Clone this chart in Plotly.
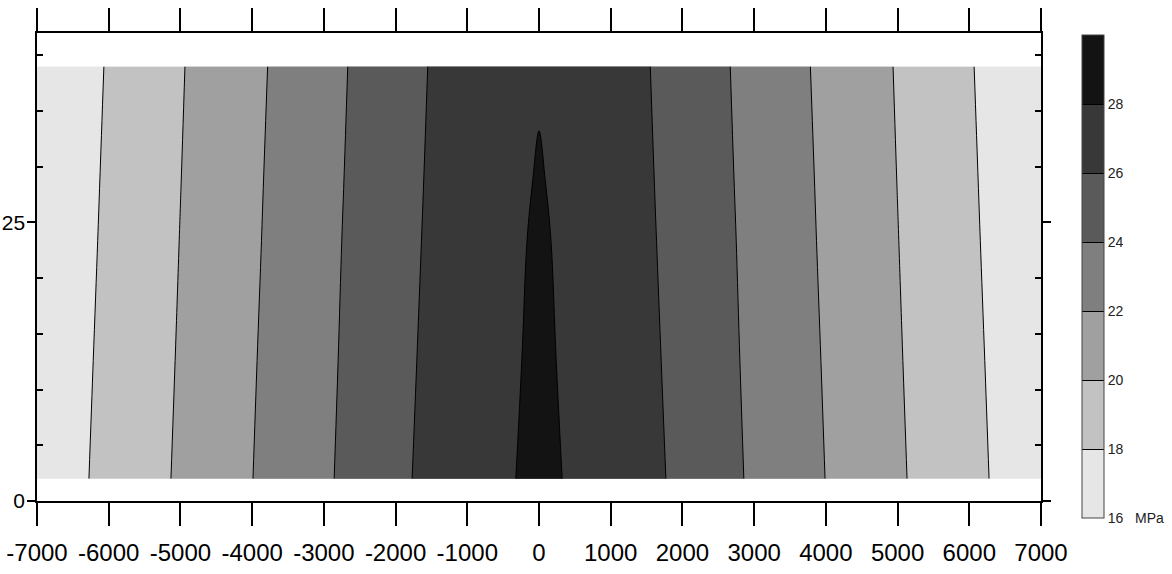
import plotly.graph_objects as go

# |x| positions (m) of the half-profile, symmetric about 0
half_x = [0, 500, 1000, 1500, 2000, 2500, 3000, 3500, 4000, 4500, 5000, 5500, 6000, 6500, 7000]
# depth rows
y_rows = [2, 12.6, 23.4, 28.8, 39]
# stress (MPa) half-profiles, one per row
z_y2   = [28.42, 27.77, 27.10, 26.42, 25.64, 24.67, 23.73, 22.85, 21.98, 21.11, 20.23, 19.36, 18.48, 17.61, 16.73]
z_y126 = [28.35, 27.62, 26.97, 26.33, 25.52, 24.56, 23.63, 22.75, 21.88, 21.00, 20.13, 19.25, 18.38, 17.50, 16.62]
z_y234 = [28.27, 27.46, 26.84, 26.23, 25.40, 24.46, 23.54, 22.65, 21.77, 20.90, 20.03, 19.15, 18.27, 17.39, 16.51]
z_y288 = [28.13, 27.38, 26.78, 26.18, 25.34, 24.40, 23.49, 22.60, 21.72, 20.85, 19.98, 19.10, 18.22, 17.33, 16.45]
z_y39  = [27.83, 27.23, 26.66, 26.09, 25.22, 24.30, 23.40, 22.50, 21.62, 20.76, 19.89, 19.00, 18.12, 17.23, 16.35]

x_ticks = [-7000, -6000, -5000, -4000, -3000, -2000, -1000, 0, 1000, 2000, 3000, 4000, 5000, 6000, 7000]
x_ticktext = ["-7000", "-6000", "-5000", "-4000", "-3000", "-2000", "-1000", "0",
              "1000", "2000", "3000", "4000", "5000", "6000", "7000"]
y_ticks = [0, 25]
y_minor = [5, 10, 15, 20, 30, 35, 40]
levels = [16, 18, 20, 22, 24, 26, 28]
scale_range = [16, 30]
band_colors = ["#e6e6e6", "#c2c2c2", "#a0a0a0", "#7f7f7f", "#5a5a5a", "#383838", "#131313"]

x_full = [-v for v in half_x[::-1]] + half_x[1:]
def mirror(row):
    return row[::-1] + row[1:]
z = [mirror(r) for r in (z_y2, z_y126, z_y234, z_y288, z_y39)]

# fill colours of the contour bands: taken at band centres over [start, end];
# the band above the last level is clamped to the top of the scale
nb = len(band_colors) - 1
fill_scale = []
for i, c in enumerate(band_colors[:-1]):
    fill_scale.append([i / nb, c])
    fill_scale.append([(i + 1) / nb - (1e-4 if i == nb - 1 else 0), c])
fill_scale.append([1.0, band_colors[-1]])

# stepped scale over [16, 30] for the colour bar
n = len(band_colors)
bar_scale = []
for i, c in enumerate(band_colors):
    bar_scale.append([i / n, c])
    bar_scale.append([(i + 1) / n, c])

font = "Liberation Sans, Arial, sans-serif"

fig = go.Figure()
fig.add_trace(go.Contour(
    x=x_full, y=y_rows, z=z,
    colorscale=fill_scale, showscale=False,
    contours=dict(start=16, end=28, size=2, coloring="fill", showlines=True),
    line=dict(color="black", width=1),
))
# colour-bar carrier, kept outside the visible x range
fig.add_trace(go.Contour(
    x=[-20000, -19000], y=[0, 1], z=[scale_range, scale_range],
    zmin=scale_range[0], zmax=scale_range[1],
    colorscale=bar_scale, showscale=True, hoverinfo="skip",
    contours=dict(start=18, end=28, size=2, coloring="heatmap", showlines=True),
    line=dict(color="black", width=1),
    colorbar=dict(
        lenmode="pixels", len=483, thicknessmode="pixels", thickness=22,
        x=(1082 - 37) / 1004, xanchor="left", xpad=0,
        y=(501 - 276.5) / 468, yanchor="middle", ypad=0,
        outlinewidth=1, outlinecolor="#444",
        tickmode="array", tickvals=levels,
        ticktext=["16   MPa"] + [str(v) for v in levels[1:]],
        ticks="", tickfont=dict(family=font, size=14, color="#222"),
    ),
))

fig.update_layout(
    width=1172, height=574,
    margin=dict(l=37, r=131, t=33, b=73, autoexpand=False),
    plot_bgcolor="white", paper_bgcolor="white",
    showlegend=False,
)
fig.update_xaxes(
    range=[-7000, 7000], tickmode="array", tickvals=x_ticks, ticktext=x_ticktext,
    tickangle=0, automargin=False,
    ticks="outside", ticklen=23, tickwidth=1.5, tickcolor="black",
    showline=True, linecolor="black", linewidth=1.5, mirror="allticks",
    showgrid=False, zeroline=False, ticklabelstandoff=6,
    tickfont=dict(family=font, size=24, color="black"),
)
fig.update_yaxes(
    range=[0, 42], tickmode="array", tickvals=y_ticks, automargin=False,
    ticks="outside", ticklen=8, tickwidth=1.5, tickcolor="black",
    minor=dict(tickvals=y_minor, ticks="inside", ticklen=6, tickcolor="black", tickwidth=1.5),
    showline=True, linecolor="black", linewidth=1.5, mirror="allticks",
    showgrid=False, zeroline=False, ticklabelstandoff=-2,
    tickfont=dict(family=font, size=21, color="black"),
)

fig.write_html("out.html")
